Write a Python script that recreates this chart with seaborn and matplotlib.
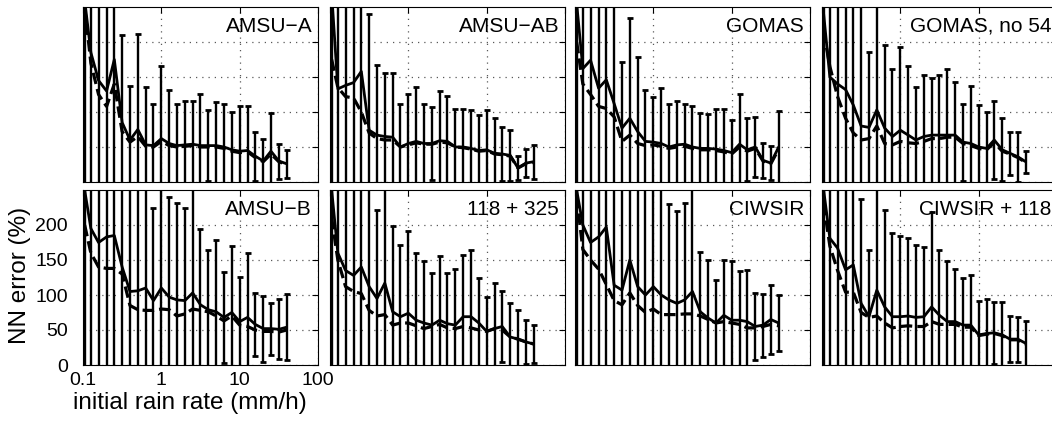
import matplotlib
matplotlib.use("Agg")
import matplotlib.pyplot as plt
from matplotlib.ticker import NullLocator
import numpy as np
import pandas as pd
import seaborn as sns

# ---------------- data ----------------
rain_rate = [0.105, 0.126, 0.158, 0.2, 0.251, 0.316, 0.398, 0.501, 0.631, 0.794,
             1.0, 1.26, 1.58, 2.0, 2.51, 3.16, 3.98, 5.01, 6.31, 7.94,
             10.0, 12.6, 15.8, 20.0, 25.1, 31.6, 39.8]

panel_names = ["AMSU\u2212A", "AMSU\u2212AB", "GOMAS", "GOMAS, no 54",
               "AMSU\u2212B", "118 + 325", "CIWSIR", "CIWSIR + 118"]

# solid line (mean NN error, %)
mean_amsua = [260, 185, 145, 130, 175, 85, 60, 75, 53, 52, 62, 55, 52, 53, 54, 52, 52, 52, 50, 46, 44, 45, 37, 30, 44, 30, 26]
mean_amsuab = [270, 133, 138, 142, 158, 74, 67, 65, 64, 50, 55, 58, 55, 55, 59, 58, 50, 50, 48, 45, 46, 41, 40, 38, 20, 27, 29]
mean_gomas = [255, 162, 174, 134, 146, 112, 77, 91, 72, 58, 57, 55, 50, 53, 54, 50, 48, 48, 47, 45, 42, 54, 46, 50, 31, 27, 50]
mean_gomas54 = [240, 150, 140, 132, 110, 80, 78, 103, 77, 65, 74, 67, 60, 65, 67, 67, 67, 67, 57, 55, 50, 48, 60, 46, 41, 36, 29]
mean_amsub = [250, 195, 175, 183, 185, 140, 105, 106, 110, 92, 110, 97, 93, 92, 103, 86, 79, 76, 68, 75, 62, 68, 58, 52, 52, 51, 54]
mean_118325 = [250, 160, 135, 128, 140, 112, 95, 117, 76, 69, 74, 64, 60, 57, 64, 59, 57, 69, 69, 60, 48, 52, 55, 40, 37, 33, 30]
mean_ciwsir = [250, 200, 175, 183, 197, 114, 107, 150, 112, 100, 112, 100, 93, 88, 93, 105, 76, 67, 60, 71, 64, 64, 62, 55, 57, 65, 60]
mean_ciwsir118 = [250, 181, 167, 136, 143, 88, 69, 107, 83, 69, 69, 70, 68, 69, 83, 71, 62, 62, 57, 57, 43, 45, 46, 43, 37, 37, 31]

# error bar half-widths (std, %)
err_amsua = [400, 400, 400, 400, 400, 125, 77, 137, 83, 59, 103, 77, 59, 62, 62, 74, 51, 62, 62, 54, 64, 64, 35, 32, 54, 25, 20]
err_amsuab = [400, 400, 400, 400, 400, 166, 100, 91, 92, 62, 71, 77, 57, 52, 71, 65, 54, 54, 55, 51, 57, 51, 39, 37, 17, 20, 24]
err_gomas = [400, 400, 400, 400, 400, 400, 95, 143, 107, 73, 64, 79, 61, 62, 58, 59, 51, 49, 57, 59, 46, 71, 45, 43, 25, 24, 52]
err_gomas54 = [400, 400, 400, 400, 400, 400, 108, 300, 119, 96, 119, 99, 75, 88, 82, 86, 94, 76, 55, 82, 60, 52, 55, 45, 31, 36, 16]
err_amsub = [400, 400, 400, 400, 400, 400, 400, 400, 400, 132, 400, 143, 138, 132, 400, 108, 85, 102, 65, 95, 64, 92, 45, 47, 37, 43, 47]
err_118325 = [400, 400, 400, 400, 400, 400, 127, 400, 122, 102, 118, 96, 88, 74, 92, 73, 80, 88, 95, 64, 49, 65, 51, 49, 42, 32, 27]
err_ciwsir = [400, 400, 400, 400, 400, 400, 400, 400, 400, 400, 400, 400, 137, 132, 139, 400, 86, 83, 62, 79, 85, 71, 74, 48, 45, 49, 40]
err_ciwsir118 = [400, 400, 400, 400, 400, 149, 96, 400, 139, 119, 115, 111, 104, 99, 136, 94, 87, 75, 68, 71, 48, 49, 44, 47, 33, 32, 32]

# dashed line (%)
dash_amsua = [250, 170, 125, 108, 140, 72, 57, 65, 51, 50, 58, 52, 50, 51, 52, 50, 50, 50, 48, 44, 42, 43, 35, 29, 40, 29, 25]
dash_amsuab = [175, 135, 122, 120, 100, 70, 62, 60, 60, 50, 53, 56, 54, 54, 57, 56, 50, 49, 47, 44, 45, 40, 39, 37, 20, 26, 28]
dash_gomas = [200, 140, 125, 108, 105, 93, 58, 67, 55, 52, 53, 51, 48, 50, 51, 48, 46, 46, 45, 43, 40, 50, 44, 48, 30, 26, 47]
dash_gomas54 = [215, 165, 122, 91, 70, 60, 62, 80, 55, 53, 58, 56, 55, 58, 62, 62, 64, 64, 55, 52, 48, 46, 56, 44, 40, 35, 28]
dash_amsub = [200, 160, 140, 138, 138, 130, 85, 79, 78, 78, 80, 79, 70, 73, 80, 78, 76, 70, 63, 70, 57, 55, 50, 48, 48, 47, 50]
dash_118325 = [210, 150, 112, 105, 102, 78, 70, 72, 57, 60, 60, 56, 52, 55, 58, 53, 52, 55, 53, 50, 48, 52, 50, 40, 37, 33, 30]
dash_ciwsir = [240, 165, 150, 137, 115, 92, 86, 103, 85, 75, 80, 72, 72, 72, 73, 73, 70, 65, 60, 62, 60, 58, 53, 53, 55, 58, 56]
dash_ciwsir118 = [230, 170, 135, 104, 104, 75, 68, 70, 60, 53, 55, 56, 55, 55, 62, 58, 58, 58, 54, 54, 42, 44, 45, 42, 36, 36, 30]

x_ticks = [0.1, 1, 10, 100]
x_ticklabels = ["0.1", "1", "10", "100"]
y_ticks = [0, 50, 100, 150, 200]
y_ticklabels = ["0", "50", "100", "150", "200"]

means = [mean_amsua, mean_amsuab, mean_gomas, mean_gomas54,
         mean_amsub, mean_118325, mean_ciwsir, mean_ciwsir118]
errs = [err_amsua, err_amsuab, err_gomas, err_gomas54,
        err_amsub, err_118325, err_ciwsir, err_ciwsir118]
dashes = [dash_amsua, dash_amsuab, dash_gomas, dash_gomas54,
          dash_amsub, dash_118325, dash_ciwsir, dash_ciwsir118]

# ---------------- style ----------------
sns.set_theme(style="white")
plt.rcParams["font.family"] = ["Liberation Sans", "DejaVu Sans"]
plt.rcParams["axes.edgecolor"] = "black"
plt.rcParams["axes.linewidth"] = 0.8

W, H = 1052, 425
fig = plt.figure(figsize=(W / 100, H / 100), dpi=100)
fig.patch.set_facecolor("white")

lefts = [83, 330, 575, 822]
tops = [7, 190]
pw, ph = 235, 175

for i, name in enumerate(panel_names):
    r, c = divmod(i, 4)
    ax = fig.add_axes([lefts[c] / W, 1 - (tops[r] + ph) / H, pw / W, ph / H])
    df = pd.DataFrame({"rate": rain_rate, "mean": means[i], "err": errs[i], "dash": dashes[i]})

    ax.set_xscale("log")
    ax.set_xlim(0.1, 100)
    ax.set_ylim(0, 250)
    ax.set_axisbelow(True)
    ax.grid(True, which="major", linestyle=(0, (1, 4)), color="0.35", lw=0.9)

    ax.errorbar(df["rate"], df["mean"], yerr=df["err"], fmt="none", ecolor="black",
                elinewidth=1.7, capsize=2.3, capthick=2.0, zorder=3)
    sns.lineplot(data=df, x="rate", y="mean", ax=ax, color="black", lw=2.0, zorder=4)
    sns.lineplot(data=df, x="rate", y="dash", ax=ax, color="black", lw=2.3,
                 linestyle=(0, (3.6, 1.6)), zorder=4)

    ax.set_xticks(x_ticks)
    ax.xaxis.set_minor_locator(NullLocator())
    ax.set_yticks(y_ticks)
    ax.tick_params(direction="in", top=True, right=True, length=4, width=0.8,
                   colors="black", labelsize=14)
    ax.tick_params(axis="y", pad=11)
    ax.tick_params(axis="x", pad=5)
    if i == 4:
        ax.set_xticklabels(x_ticklabels)
        ax.set_yticklabels(y_ticklabels)
    else:
        ax.set_xticklabels([])
        ax.set_yticklabels([])
    ax.set_xlabel("")
    ax.set_ylabel("")
    for s in ax.spines.values():
        s.set_color("black")
        s.set_linewidth(0.8)

    ax.text(0.975, 0.945, name, transform=ax.transAxes, ha="right", va="top",
            fontsize=15, color="black")

fig.text(20 / W, 1 - 275 / H, "NN error (%)", rotation=90, ha="center", va="center",
         fontsize=17.5, color="black")
fig.text(190 / W, 1 - 403 / H, "initial rain rate (mm/h)", ha="center", va="center",
         fontsize=17.5, color="black")

fig.savefig("out.png", dpi=100, facecolor="white")
